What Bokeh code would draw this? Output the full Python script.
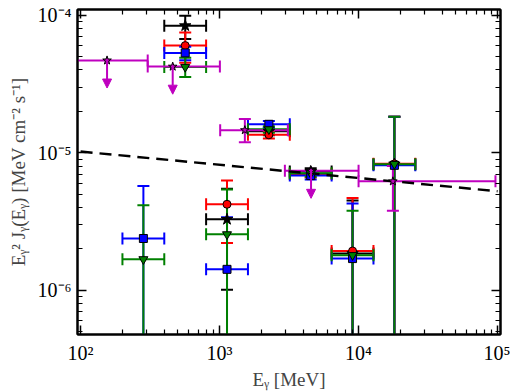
import numpy as np
from bokeh.plotting import figure
from bokeh.models import (ColumnDataSource, Whisker, TeeHead, Arrow, NormalHead, LogAxis,
                          FixedTicker, CustomJSTickFormatter, Range1d)
from bokeh.embed import file_html
from bokeh.resources import INLINE

LOW = 1e-9  # error bars that run off the bottom of the plot

# ---- black stars ----
k_x = [566, 1131, 2263, 4525, 9051, 18100]
k_xlo = [400, 800, 1600, 3200, 6400, 12800]
k_xhi = [800, 1600, 3200, 6400, 12800, 25600]
k_y = [8.39e-5, 3.28e-6, 1.43e-5, 7.31e-6, 1.85e-6, 8.26e-6]
k_ylo = [6.7e-5, 1.01e-6, 1.34e-5, 6.9e-6, LOW, LOW]
k_yhi = [9.9e-5, 5.47e-6, 1.52e-5, 7.7e-6, 4.5e-6, 1.83e-5]

# ---- red circles ----
r_x = [566, 1131, 2263, 4525, 9051, 18100]
r_xlo = [400, 800, 1600, 3200, 6400, 12800]
r_xhi = [800, 1600, 3200, 6400, 12800, 25600]
r_y = [6.01e-5, 4.22e-6, 1.35e-5, 7.0e-6, 1.93e-6, 8.3e-6]
r_ylo = [4.52e-5, 2.21e-6, 1.27e-5, 6.6e-6, LOW, LOW]
r_yhi = [7.48e-5, 6.28e-6, 1.44e-5, 7.4e-6, 4.69e-6, 1.83e-5]

# ---- blue squares ----
b_x = [283, 566, 1131, 2263, 4525, 9051, 18100]
b_xlo = [200, 400, 800, 1600, 3200, 6400, 12800]
b_xhi = [400, 800, 1600, 3200, 6400, 12800, 25600]
b_y = [2.38e-6, 5.32e-5, 1.42e-6, 1.61e-5, 6.82e-6, 1.7e-6, 8.1e-6]
b_ylo = [LOW, 4.7e-5, LOW, 1.52e-5, 6.4e-6, LOW, LOW]
b_yhi = [5.72e-6, 5.9e-5, 3.4e-6, 1.7e-5, 7.2e-6, 4.28e-6, 1.83e-5]

# ---- green down-triangles ----
g_x = [283, 566, 1131, 2263, 4525, 9051, 18100]
g_xlo = [200, 400, 800, 1600, 3200, 6400, 12800]
g_xhi = [400, 800, 1600, 3200, 6400, 12800, 25600]
g_y = [1.68e-6, 4.2e-5, 2.55e-6, 1.48e-5, 7.08e-6, 1.8e-6, 8.26e-6]
g_ylo = [LOW, 3.56e-5, LOW, 1.4e-5, 6.7e-6, LOW, LOW]
g_yhi = [4.16e-6, 4.9e-5, 5.4e-6, 1.56e-5, 7.5e-6, 3.79e-6, 1.83e-5]

# ---- magenta stars (measurements) ----
m_x = [1520, 17660]
m_xlo = [1010, 10000]
m_xhi = [3100, 96600]
m_y = [1.46e-5, 6.2e-6]
m_ylo = [1.19e-5, 3.79e-6]
m_yhi = [1.76e-5, 8.0e-6]

# ---- magenta stars (upper limits) ----
mu_x = [155, 460, 4550]
mu_xlo = [78, 304, 2950]
mu_xhi = [304, 1005, 10000]
mu_y = [4.69e-5, 4.23e-5, 7.4e-6]

# ---- dashed model line ----
model_x = [100, 100000]
model_y = [1.02e-5, 5.25e-6]

# ---- ticks ----
x_major = [1e2, 1e3, 1e4, 1e5]
y_major = [1e-6, 1e-5, 1e-4]

UL_FACTOR = 0.63
FONT = "Liberation Serif"
K, R, B, G, M = "black", "#ff0000", "#0000ff", "#008000", "#bf00bf"

p = figure(width=510, height=392, x_axis_type="log", y_axis_type="log",
           x_range=Range1d(95, 105000), y_range=Range1d(4.77e-7, 1.1e-4),
           output_backend="svg", toolbar_location=None,
           min_border_left=77, min_border_right=10, min_border_top=9, min_border_bottom=52)
p.xgrid.visible = False
p.ygrid.visible = False
p.outline_line_color = "black"
p.outline_line_width = 2
p.background_fill_color = "white"
p.border_fill_color = "white"

fmt = CustomJSTickFormatter(code="""
const e = Math.round(Math.log10(tick));
const m = {"-":"\u207b","0":"\u2070","1":"\u00b9","2":"\u00b2","3":"\u00b3","4":"\u2074","5":"\u2075","6":"\u2076","7":"\u2077","8":"\u2078","9":"\u2079"};
return "10" + String(e).split("").map(c => m[c]).join("");
""")
blank = CustomJSTickFormatter(code="return '';")

xt = FixedTicker(ticks=x_major,
                 minor_ticks=[1e2 * k for k in range(2, 10)] + [1e3 * k for k in range(2, 10)] + [1e4 * k for k in range(2, 10)])
yt = FixedTicker(ticks=y_major,
                 minor_ticks=[1e-7 * k for k in range(2, 10)] + [1e-6 * k for k in range(2, 10)] + [1e-5 * k for k in range(2, 10)])

def style(ax, labels=True):
    ax.axis_line_width = 2
    ax.major_tick_in = 9
    ax.major_tick_out = 0
    ax.minor_tick_in = 5
    ax.minor_tick_out = 0
    ax.major_tick_line_width = 1.5
    ax.minor_tick_line_width = 1.2
    ax.major_label_text_font = FONT
    ax.major_label_text_font_size = "20px"
    ax.major_label_text_color = "black"
    ax.axis_label_text_font = FONT
    ax.axis_label_text_font_size = "19px"
    ax.axis_label_text_font_style = "normal"
    if not labels:
        ax.major_label_standoff = 0

p.xaxis.ticker = xt
p.yaxis.ticker = yt
p.xaxis.formatter = fmt
p.yaxis.formatter = fmt
style(p.xaxis[0]); style(p.yaxis[0])
p.xaxis.axis_label = "E\u1d67 [MeV]"
p.yaxis.axis_label = "E\u1d67\u00b2 J\u1d67(E\u1d67) [MeV cm\u207b\u00b2 s\u207b\u00b9]"
p.xaxis.major_label_standoff = 7
p.yaxis.major_label_standoff = 6
p.xaxis.axis_label_standoff = 2
p.yaxis.axis_label_standoff = 6

top = LogAxis(ticker=xt, formatter=blank)
right = LogAxis(ticker=yt, formatter=blank)
style(top, False); style(right, False)
p.add_layout(top, "above")
p.add_layout(right, "right")

# model line
p.line(model_x, model_y, line_color="black", line_width=2.4, line_dash="12 7")

def errbars(x, xlo, xhi, y, ylo, yhi, color):
    src = ColumnDataSource(dict(x=x, xlo=xlo, xhi=xhi, y=y, ylo=ylo, yhi=yhi))
    p.add_layout(Whisker(source=src, base="y", lower="xlo", upper="xhi", dimension="width",
                         line_color=color, line_width=2,
                         lower_head=TeeHead(size=12, line_color=color, line_width=2),
                         upper_head=TeeHead(size=12, line_color=color, line_width=2)))
    p.add_layout(Whisker(source=src, base="x", lower="ylo", upper="yhi", dimension="height",
                         line_color=color, line_width=2,
                         lower_head=TeeHead(size=12, line_color=color, line_width=2),
                         upper_head=TeeHead(size=12, line_color=color, line_width=2)))
    return src

s = errbars(k_x, k_xlo, k_xhi, k_y, k_ylo, k_yhi, K)
p.scatter("x", "y", source=s, marker="star", size=12, fill_color=K, line_color=K)
s = errbars(r_x, r_xlo, r_xhi, r_y, r_ylo, r_yhi, R)
p.scatter("x", "y", source=s, marker="circle", size=8, fill_color=R, line_color="black")
s = errbars(b_x, b_xlo, b_xhi, b_y, b_ylo, b_yhi, B)
p.scatter("x", "y", source=s, marker="square", size=8, fill_color=B, line_color="black")
s = errbars(g_x, g_xlo, g_xhi, g_y, g_ylo, g_yhi, G)
p.scatter("x", "y", source=s, marker="inverted_triangle", size=9, fill_color=G, line_color="black")

# magenta measurements
s = errbars(m_x, m_xlo, m_xhi, m_y, m_ylo, m_yhi, M)
p.scatter("x", "y", source=s, marker="star", size=9, fill_color=M, line_color="black")

# magenta upper limits
ul = ColumnDataSource(dict(x=mu_x, xlo=mu_xlo, xhi=mu_xhi, y=mu_y,
                           yend=[v * UL_FACTOR for v in mu_y]))
p.add_layout(Whisker(source=ul, base="y", lower="xlo", upper="xhi", dimension="width",
                     line_color=M, line_width=2,
                     lower_head=TeeHead(size=12, line_color=M, line_width=2),
                     upper_head=TeeHead(size=12, line_color=M, line_width=2)))
p.add_layout(Arrow(source=ul, x_start="x", y_start="y", x_end="x", y_end="yend",
                   line_color=M, line_width=2,
                   end=NormalHead(size=9, fill_color=M, line_color=M)))
p.scatter("x", "y", source=ul, marker="star", size=9, fill_color=M, line_color="black")

open("out.html", "w").write(file_html(p, INLINE))
